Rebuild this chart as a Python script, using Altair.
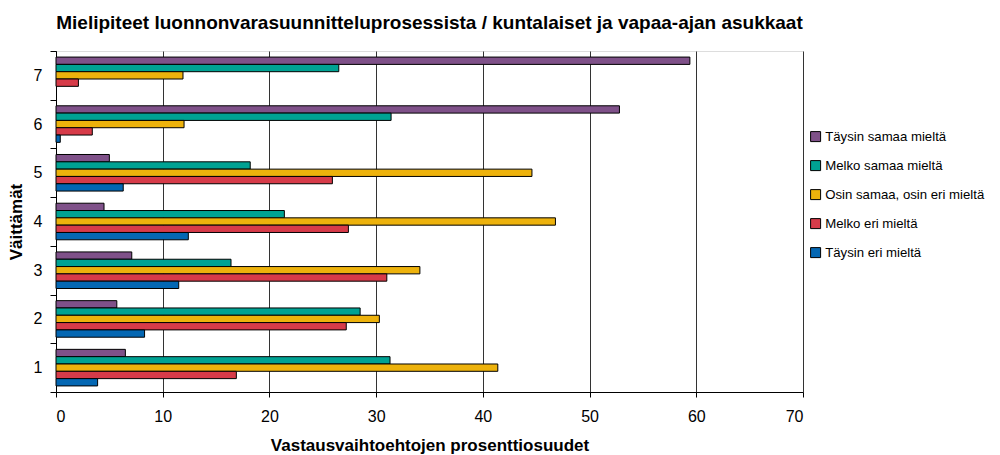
import altair as alt
import pandas as pd

questions = ["1", "2", "3", "4", "5", "6", "7"]
series = [
    "Täysin samaa mieltä",
    "Melko samaa mieltä",
    "Osin samaa, osin eri mieltä",
    "Melko eri mieltä",
    "Täysin eri mieltä",
]
taysin_samaa = [6.5, 5.7, 7.1, 4.5, 5.0, 52.8, 59.4]
melko_samaa = [31.3, 28.5, 16.4, 21.4, 18.2, 31.4, 26.5]
osin = [41.4, 30.3, 34.1, 46.8, 44.6, 12.0, 11.9]
melko_eri = [16.9, 27.2, 31.0, 27.4, 25.9, 3.4, 2.1]
taysin_eri = [3.9, 8.3, 11.5, 12.4, 6.3, 0.4, 0.0]
colors = ["#7F5189", "#00A293", "#EDB20C", "#D73B49", "#0467B3"]
x_ticks = [0, 10, 20, 30, 40, 50, 60, 70]

rows = []
for s, vals in zip(series, [taysin_samaa, melko_samaa, osin, melko_eri, taysin_eri]):
    for q, v in zip(questions, vals):
        rows.append({"q": q, "series": s, "value": v})
df = pd.DataFrame(rows)

FONT = "Liberation Sans"

chart = (
    alt.Chart(df)
    .transform_filter("datum.value > 0")
    .mark_bar(stroke="black", strokeWidth=1, cornerRadius=0)
    .encode(
        x=alt.X(
            "value:Q",
            scale=alt.Scale(domain=[0, 70], nice=False),
            axis=alt.Axis(
                values=x_ticks,
                title="Vastausvaihtoehtojen prosenttiosuudet",
                grid=True,
                gridColor="#333333",
                gridWidth=1,
                gridOpacity=1,
                domainColor="black",
                tickColor="black",
                tickSize=5,
                labelFontSize=16,
                labelPadding=11,
                labelColor="black",
                titleFontSize=17,
                titleFontWeight="bold",
                titlePadding=13,
                titleColor="black",
                labelFont=FONT,
                titleFont=FONT,
            ),
        ),
        y=alt.Y(
            "q:N",
            sort=list(reversed(questions)),
            scale=alt.Scale(paddingInner=0, paddingOuter=0),
            axis=alt.Axis(
                title="Väittämät",
                tickBand="extent",
                grid=False,
                domainColor="black",
                tickColor="black",
                tickSize=6,
                labelFontSize=16,
                labelPadding=8,
                labelColor="black",
                labelAngle=0,
                titleFontSize=17,
                titleFontWeight="bold",
                titlePadding=8,
                titleColor="black",
                labelFont=FONT,
                titleFont=FONT,
            ),
        ),
        yOffset=alt.YOffset(
            "series:N",
            sort=series,
            scale=alt.Scale(paddingInner=0, paddingOuter=0.83),
        ),
        color=alt.Color(
            "series:N",
            sort=series,
            scale=alt.Scale(domain=series, range=colors),
            legend=alt.Legend(
                title=None,
                orient="none",
                legendX=753,
                legendY=79,
                symbolType="square",
                symbolSize=100,
                symbolStrokeColor="black",
                symbolStrokeWidth=1,
                symbolOpacity=1,
                labelFontSize=13.2,
                labelFont=FONT,
                labelColor="black",
                labelOffset=3,
                labelLimit=400,
                rowPadding=14,
                padding=0,
            ),
        ),
    )
    .properties(
        width=747,
        height=341,
        title=alt.TitleParams(
            "Mielipiteet luonnonvarasuunnitteluprosessista / kuntalaiset ja vapaa-ajan asukkaat",
            font=FONT,
            fontSize=19,
            fontWeight="bold",
            color="black",
            anchor="middle",
            offset=10,
        ),
        autosize=alt.AutoSizeParams(type="none"),
        padding={"left": 48, "top": 43, "right": 189, "bottom": 62},
    )
    .configure_view(stroke="black", strokeWidth=1)
    .configure(background="white")
)

chart.save("out.html", embed_options={"renderer": "svg", "actions": False})
